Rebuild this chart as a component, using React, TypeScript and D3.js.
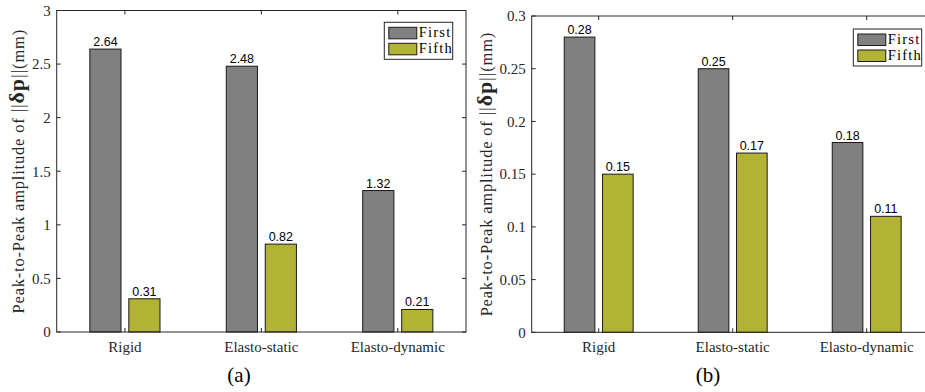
import React from "react";
import * as d3 from "d3";

// Categories, series and values for the two bar panels
const categories = ["Rigid", "Elasto-static", "Elasto-dynamic"];
const seriesNames = ["First", "Fifth"];
const firstA = [2.64, 2.48, 1.32];
const fifthA = [0.31, 0.82, 0.21];
const firstB = [0.28, 0.25, 0.18];
const fifthB = [0.15, 0.17, 0.11];
const ticksA = [0, 0.5, 1, 1.5, 2, 2.5, 3];
const ticksB = [0, 0.05, 0.1, 0.15, 0.2, 0.25, 0.3];
const captions = ["(a)", "(b)"];

const COLORS = ["#808080", "#b2b234"];
const AXIS = "#262626";
const SERIF = "'Liberation Serif', 'Times New Roman', serif";
const SANS = "'Liberation Sans', Arial, sans-serif";

type PanelProps = {
  series: number[][];
  ticks: number[];
  yMax: number;
  left: number;
  right: number;
  top: number;
  bottom: number;
  labelX: number;
  legendX: number;
  legendY: number;
  caption: string;
  captionX: number;
  clipId: string;
};

function Panel(p: PanelProps) {
  const x = d3.scaleLinear().domain([0.5, 3.5]).range([p.left, p.right]);
  const y = d3.scaleLinear().domain([0, p.yMax]).range([p.bottom, p.top]);
  const groupWidth = Math.min(0.8, 2 / (2 + 1.5));
  const barW = (groupWidth / 2) * 0.8;
  const offsets = [-groupWidth / 4, groupWidth / 4];
  const tickLen = 4;
  const fmt = (v: number) => String(+v.toFixed(4));
  const midY = (p.top + p.bottom) / 2;
  const lw = 68.4;
  const lh = 37;

  return (
    <g>
      <clipPath id={p.clipId}>
        <rect x={0} y={0} width={925} height={392} />
      </clipPath>
      <g clipPath={`url(#${p.clipId})`}>
        {/* bars */}
        {p.series.map((vals, s) =>
          vals.map((v, i) => {
            const cx = x(i + 1 + offsets[s]);
            const w = x(barW) - x(0);
            const x0 = cx - w / 2;
            return (
              <g key={`${s}-${i}`}>
                <rect
                  x={x0}
                  y={y(v)}
                  width={w}
                  height={y(0) - y(v)}
                  fill={COLORS[s]}
                  stroke="#1a1a1a"
                  strokeWidth={1}
                />
                <text
                  x={cx}
                  y={y(v) - 3}
                  textAnchor="middle"
                  fontFamily={SANS}
                  fontSize={12.5}
                  fill="#000"
                >
                  {fmt(v)}
                </text>
              </g>
            );
          })
        )}
        {/* axes box */}
        <rect
          x={p.left}
          y={p.top}
          width={p.right - p.left}
          height={p.bottom - p.top}
          fill="none"
          stroke={AXIS}
          strokeWidth={1}
        />
        {/* y ticks, left and right */}
        {p.ticks.map((t) => (
          <g key={t}>
            <line x1={p.left} x2={p.left + tickLen} y1={y(t)} y2={y(t)} stroke={AXIS} />
            <line x1={p.right} x2={p.right - tickLen} y1={y(t)} y2={y(t)} stroke={AXIS} />
            <text
              x={p.left - 6}
              y={y(t)}
              dy="0.35em"
              textAnchor="end"
              fontFamily={SERIF}
              fontSize={15}
              fill="#262626"
            >
              {fmt(t)}
            </text>
          </g>
        ))}
        {/* x ticks, bottom and top */}
        {categories.map((c, i) => (
          <g key={c}>
            <line x1={x(i + 1)} x2={x(i + 1)} y1={p.bottom} y2={p.bottom - tickLen} stroke={AXIS} />
            <line x1={x(i + 1)} x2={x(i + 1)} y1={p.top} y2={p.top + tickLen} stroke={AXIS} />
            <text
              x={x(i + 1)}
              y={p.bottom + 19.5}
              textAnchor="middle"
              fontFamily={SERIF}
              fontSize={15}
              fill="#262626"
            >
              {c}
            </text>
          </g>
        ))}
        {/* legend */}
        <rect
          x={p.legendX}
          y={p.legendY}
          width={lw}
          height={lh}
          fill="#fff"
          stroke={AXIS}
          strokeWidth={1}
        />
        {seriesNames.map((n, s) => (
          <g key={n}>
            <rect
              x={p.legendX + 4.5}
              y={p.legendY + 5 + s * 16}
              width={28}
              height={11.5}
              fill={COLORS[s]}
              stroke="#1a1a1a"
            />
            <text
              x={p.legendX + 34.5}
              y={p.legendY + 15 + s * 16}
              fontFamily={SERIF}
              fontSize={14.5}
              letterSpacing={1.2}
              fill="#000"
            >
              {n}
            </text>
          </g>
        ))}
      </g>
      {/* y axis label */}
      <text
        transform={`translate(${p.labelX},${midY}) rotate(-90)`}
        textAnchor="middle"
        dy="0.35em"
        fontFamily={SERIF}
        fontSize={16.5}
        fill="#262626"
        letterSpacing={0.8}
      >
        <tspan>Peak-to-Peak amplitude of </tspan>
        <tspan fontSize={19}>||</tspan>
        <tspan fontWeight="bold" fontSize={22}>δp</tspan>
        <tspan fontSize={19}>||</tspan>
        <tspan>(mm)</tspan>
      </text>
      {/* panel caption */}
      <text
        x={p.captionX}
        y={382}
        textAnchor="middle"
        fontFamily={SERIF}
        fontSize={21}
        fill="#000"
      >
        {p.caption}
      </text>
    </g>
  );
}

export default function App() {
  return (
    <svg
      width={925}
      height={392}
      style={{ position: "absolute", left: 0, top: 0, background: "#fff" }}
    >
      <rect width={925} height={392} fill="#fff" />
      <Panel
        series={[firstA, fifthA]}
        ticks={ticksA}
        yMax={3}
        left={56.7}
        right={466}
        top={10.5}
        bottom={332}
        labelX={18}
        legendX={384.3}
        legendY={22.3}
        caption={captions[0]}
        captionX={239}
        clipId="clipA"
      />
      <Panel
        series={[firstB, fifthB]}
        ticks={ticksB}
        yMax={0.3}
        left={531.7}
        right={933.7}
        top={16}
        bottom={332.3}
        labelX={486}
        legendX={853.3}
        legendY={29}
        caption={captions[1]}
        captionX={708}
        clipId="clipB"
      />
    </svg>
  );
}
